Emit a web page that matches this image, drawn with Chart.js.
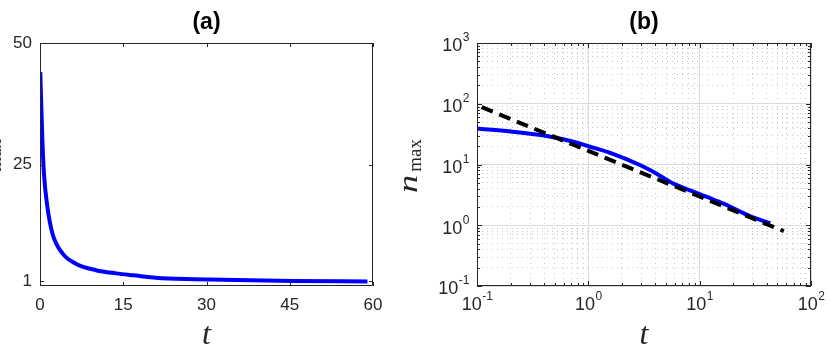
<!DOCTYPE html>
<html lang="en">
<head>
<meta charset="UTF-8">
<title>n_max vs t</title>
<style>
  html, body { margin: 0; padding: 0; background: #fff; }
  #wrap { position: relative; width: 830px; height: 359px; overflow: hidden; }
  .panel { position: absolute; top: 0; }
</style>
</head>
<body>
<div id="wrap">
  <div class="panel" style="left:0"><canvas id="chartA" width="415" height="359"></canvas></div>
  <div class="panel" style="left:395px"><canvas id="chartB" width="435" height="359"></canvas></div>
</div>
<script src="https://cdn.jsdelivr.net/npm/chart.js"></script>
<script>
// panel (a), linear axes
const tA = [0.05, 0.43, 0.72, 1.33, 2.24, 4.05, 6.45, 10.1, 13.7, 16.8, 22, 30.5, 45.6, 59];
const nA = [44, 30, 23, 16.3, 10.8, 6.7, 4.6, 3.25, 2.6, 2.2, 1.6, 1.35, 1.05, 0.95];
const xTicksA = [0, 15, 30, 45, 60];
const yTicksA = [1, 25, 50];

// panel (b), log-log axes
const tB = [0.1, 0.2, 0.4, 0.78, 1, 1.55, 2.94, 4.14, 5.8, 8.2, 10, 11.6, 16.4, 28.6, 43];
const nB = [39, 35, 30, 23, 20, 15.7, 9.7, 7.0, 4.85, 3.75, 3.25, 2.92, 2.27, 1.4, 1.08];
const tFit = [0.11, 57];
const nFit = [88, 0.8];
const xDecB = [0.1, 1, 10, 100];
const xExpB = ['-1', '0', '1', '2'];
const yDecB = [0.1, 1, 10, 100, 1000];
const yExpB = ['-1', '0', '1', '2', '3'];

const ink = '#262626';
const sans = '"Liberation Sans", Arial, sans-serif';
const serif = '"Liberation Serif", "Times New Roman", serif';

// minor decade ticks 2..9 between the majors
function minors(decs) {
  const out = [];
  for (let i = 0; i < decs.length - 1; i++) {
    for (let k = 2; k <= 9; k++) out.push(+(decs[i] * k).toPrecision(3));
  }
  return out;
}
const xMinB = minors(xDecB);
const yMinB = minors(yDecB);

// box round the plot area plus inward ticks on all four sides
function drawBox(chart, xs, ys) {
  const { ctx, chartArea: a } = chart;
  ctx.save();
  ctx.strokeStyle = ink;
  ctx.lineWidth = 1;
  ctx.beginPath();
  ctx.rect(a.left + 0.5, a.top + 0.5, a.right - a.left - 1, a.bottom - a.top - 1);
  ctx.stroke();
  ctx.beginPath();
  xs.forEach(([scale, vals, len]) => {
    vals.forEach(v => {
      const x = Math.round(scale.getPixelForValue(v)) + 0.5;
      ctx.moveTo(x, a.bottom); ctx.lineTo(x, a.bottom - len);
      ctx.moveTo(x, a.top); ctx.lineTo(x, a.top + len);
    });
  });
  ys.forEach(([scale, vals, len]) => {
    vals.forEach(v => {
      const y = Math.round(scale.getPixelForValue(v)) + 0.5;
      ctx.moveTo(a.left, y); ctx.lineTo(a.left + len, y);
      ctx.moveTo(a.right, y); ctx.lineTo(a.right - len, y);
    });
  });
  ctx.stroke();
  ctx.restore();
}

// rotated y label n_max: baseline at page column x, text starts at y and runs up
function drawNmax(ctx, x, y) {
  ctx.save();
  ctx.translate(x, y);
  ctx.rotate(-Math.PI / 2);
  ctx.fillStyle = ink;
  ctx.textBaseline = 'alphabetic';
  ctx.textAlign = 'left';
  ctx.font = 'italic 28px ' + serif;
  ctx.save();
  ctx.scale(1.3, 1);
  ctx.fillText('n', 0, 0);
  ctx.restore();
  const w = ctx.measureText('n').width * 1.3;
  ctx.font = '19px ' + serif;
  ctx.fillText('max', w + 3, 4);
  ctx.restore();
}

function drawTitles(chart, label) {
  const { ctx, chartArea: a } = chart;
  const cx = (a.left + a.right) / 2;
  ctx.save();
  ctx.fillStyle = '#000';
  ctx.textAlign = 'center';
  ctx.textBaseline = 'middle';
  ctx.font = 'bold 23px ' + sans;
  ctx.fillText(label, cx, 23);
  ctx.fillStyle = ink;
  ctx.textBaseline = 'alphabetic';
  ctx.font = 'italic 32px ' + serif;
  ctx.fillText('t', cx, 344);
  ctx.restore();
}

const decorA = {
  id: 'decorA',
  afterDraw(chart) {
    const s = chart.scales;
    drawBox(chart, [[s.x, xTicksA, 4]], [[s.y, yTicksA, 4]]);
    drawTitles(chart, '(a)');
    // label of the left panel is cut by the page edge
    drawNmax(chart.ctx, -3.5, 193);
  }
};

new Chart(document.getElementById('chartA').getContext('2d'), {
  type: 'line',
  data: {
    datasets: [{
      data: tA.map((t, i) => ({ x: t, y: nA[i] })),
      borderColor: '#0000ff',
      borderWidth: 4,
      pointRadius: 0,
      cubicInterpolationMode: 'monotone',
      fill: false
    }]
  },
  options: {
    responsive: false,
    animation: false,
    events: [],
    layout: { padding: { left: 0, right: 42, top: 43, bottom: 0 } },
    plugins: { legend: { display: false }, tooltip: { enabled: false } },
    scales: {
      x: {
        type: 'linear', min: 0, max: 60,
        afterBuildTicks: s => { s.ticks = xTicksA.map(v => ({ value: v })); },
        afterFit: s => { s.height = 73; },
        grid: { display: false, drawTicks: false },
        border: { display: false },
        ticks: { color: ink, font: { family: sans, size: 17 }, padding: 9, maxRotation: 0 }
      },
      y: {
        type: 'linear', min: 0, max: 50,
        afterBuildTicks: s => { s.ticks = yTicksA.map(v => ({ value: v })); },
        afterFit: s => { s.width = 40; },
        grid: { display: false, drawTicks: false },
        border: { display: false },
        ticks: { color: ink, font: { family: sans, size: 17 }, padding: 8 }
      }
    }
  },
  plugins: [decorA]
});

// 10 with a raised exponent, drawn at the library's tick positions
function powerLabel(ctx, exp, x, y, align) {
  ctx.font = '18px ' + sans;
  const wb = ctx.measureText('10').width;
  ctx.font = '12px ' + sans;
  const we = ctx.measureText(exp).width;
  const left = align === 'center' ? x - (wb + we) / 2 : x - wb - we;
  ctx.textAlign = 'left';
  ctx.textBaseline = 'middle';
  ctx.font = '18px ' + sans;
  ctx.fillText('10', left, y + 3.5);
  ctx.font = '12px ' + sans;
  ctx.fillText(exp, left + wb + 0.5, y - 5);
}

const decorB = {
  id: 'decorB',
  afterDraw(chart) {
    const s = chart.scales;
    const { ctx, chartArea: a } = chart;
    drawBox(chart, [[s.x, xDecB, 5], [s.x, xMinB, 3]], [[s.y, yDecB, 5], [s.y, yMinB, 3]]);
    ctx.save();
    ctx.fillStyle = ink;
    xDecB.forEach((v, i) => powerLabel(ctx, xExpB[i], s.x.getPixelForValue(v), 302, 'center'));
    yDecB.forEach((v, i) => powerLabel(ctx, yExpB[i], a.left - 8, s.y.getPixelForValue(v), 'right'));
    ctx.restore();
    drawTitles(chart, '(b)');
    drawNmax(ctx, 22, 193);
  }
};

const minorGrid = { color: 'rgba(60,60,60,0.28)', drawTicks: false, lineWidth: 1 };
const majorGrid = { color: '#dcdcdc', drawTicks: false, lineWidth: 1 };

new Chart(document.getElementById('chartB').getContext('2d'), {
  type: 'line',
  data: {
    datasets: [{
      data: tFit.map((t, i) => ({ x: t, y: nFit[i] })),
      borderColor: '#000',
      borderWidth: 4,
      borderDash: [12, 7],
      pointRadius: 0,
      fill: false,
      xAxisID: 'x', yAxisID: 'y'
    }, {
      data: tB.map((t, i) => ({ x: t, y: nB[i] })),
      borderColor: '#0000ff',
      borderWidth: 4,
      pointRadius: 0,
      cubicInterpolationMode: 'monotone',
      fill: false,
      xAxisID: 'x', yAxisID: 'y'
    }]
  },
  options: {
    responsive: false,
    animation: false,
    events: [],
    layout: { padding: { left: 0, right: 19, top: 43, bottom: 0 } },
    plugins: { legend: { display: false }, tooltip: { enabled: false } },
    scales: {
      x: {
        type: 'logarithmic', position: 'bottom', min: 0.1, max: 100,
        afterBuildTicks: s => { s.ticks = xMinB.map(v => ({ value: v })); },
        afterFit: s => { s.height = 73; },
        grid: minorGrid,
        border: { display: false, dash: [1, 4] },
        ticks: { display: false }
      },
      x2: {
        type: 'logarithmic', position: 'bottom', min: 0.1, max: 100,
        afterBuildTicks: s => { s.ticks = xDecB.map(v => ({ value: v })); },
        afterFit: s => { s.height = 0; },
        grid: majorGrid,
        border: { display: false },
        ticks: { display: false }
      },
      y: {
        type: 'logarithmic', position: 'left', min: 0.1, max: 1000,
        afterBuildTicks: s => { s.ticks = yMinB.map(v => ({ value: v })); },
        afterFit: s => { s.width = 82; },
        grid: minorGrid,
        border: { display: false, dash: [1, 4] },
        ticks: { display: false }
      },
      y2: {
        type: 'logarithmic', position: 'left', min: 0.1, max: 1000,
        afterBuildTicks: s => { s.ticks = yDecB.map(v => ({ value: v })); },
        afterFit: s => { s.width = 0; },
        grid: majorGrid,
        border: { display: false },
        ticks: { display: false }
      }
    }
  },
  plugins: [decorB]
});
</script>
</body>
</html>
